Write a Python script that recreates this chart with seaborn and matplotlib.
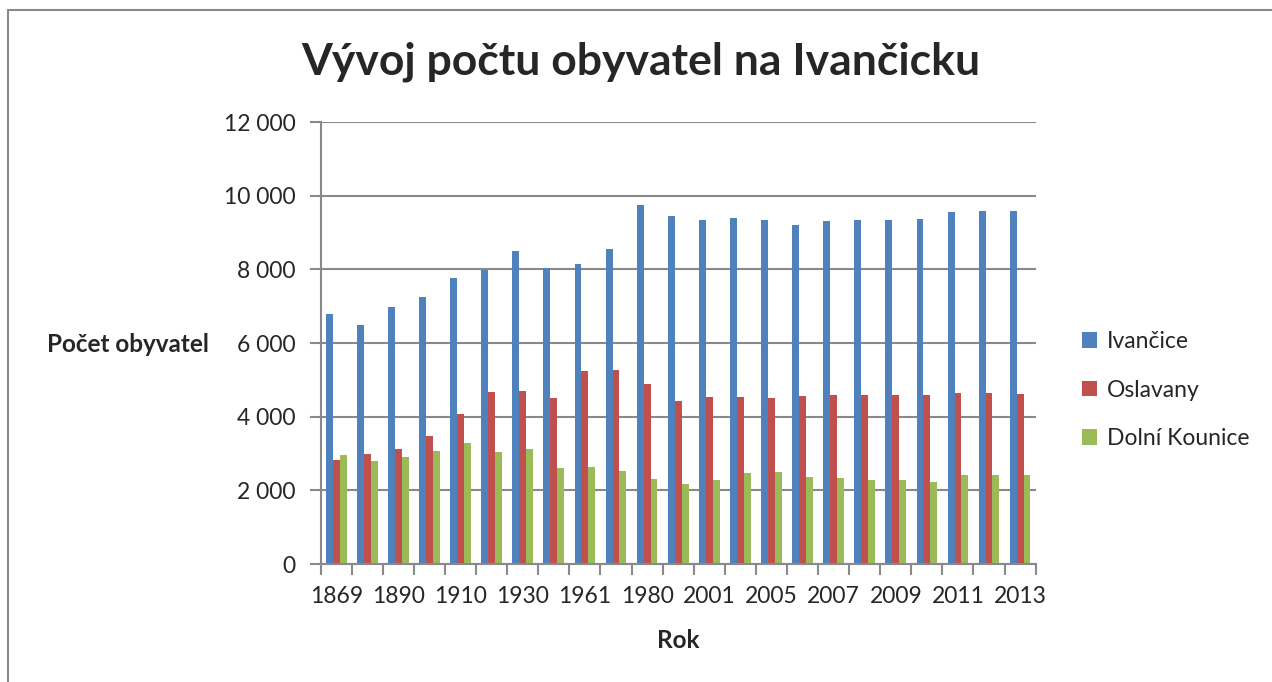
import matplotlib
matplotlib.use("Agg")
import matplotlib.pyplot as plt
from matplotlib.lines import Line2D
from matplotlib.patches import Patch
import pandas as pd
import seaborn as sns

years = ["1869", "1880", "1890", "1900", "1910", "1921", "1930", "1950", "1961", "1970",
         "1980", "1991", "2001", "2004", "2005", "2006", "2007", "2008", "2009", "2010",
         "2011", "2012", "2013"]
ivancice = [6800, 6500, 6980, 7250, 7770, 7980, 8510, 8030, 8140, 8540,
            9740, 9440, 9340, 9390, 9330, 9210, 9300, 9340, 9340, 9370,
            9550, 9590, 9580]
oslavany = [2820, 2980, 3110, 3470, 4060, 4660, 4700, 4520, 5250, 5280,
            4880, 4430, 4530, 4540, 4520, 4550, 4590, 4600, 4600, 4590,
            4640, 4630, 4620]
dolni_kounice = [2950, 2790, 2900, 3060, 3290, 3040, 3110, 2610, 2630, 2520,
                 2310, 2170, 2280, 2460, 2490, 2350, 2340, 2280, 2280, 2230,
                 2430, 2410, 2410]
series_names = ["Ivančice", "Oslavany", "Dolní Kounice"]
colors = ["#4F81BD", "#C0504D", "#9BBB59"]
y_ticks = [0, 2000, 4000, 6000, 8000, 10000, 12000]

df = pd.DataFrame({
    "Rok": years * 3,
    "obec": [series_names[0]] * len(years) + [series_names[1]] * len(years) + [series_names[2]] * len(years),
    "pocet": ivancice + oslavany + dolni_kounice,
})

sns.set_theme(style="white")
plt.rcParams["font.family"] = ["Lato", "DejaVu Sans"]
grey = "#898989"

fig = plt.figure(figsize=(12.72, 6.82), dpi=100)
ax = fig.add_axes([0.2521, 0.1730, 0.5621, 0.6481])

sns.barplot(data=df, x="Rok", y="pocet", hue="obec", order=years, hue_order=series_names,
            palette=colors, width=0.665, saturation=1, ax=ax, legend=False,
            edgecolor="none", linewidth=0)

ax.set_ylim(0, 12000)
ax.set_xlim(-0.5, len(years) - 0.5)
ax.set_yticks(y_ticks)
ax.set_yticklabels([f"{v:,}".replace(",", " ") for v in y_ticks], fontsize=16.5)
ax.yaxis.grid(True, color=grey, linewidth=1.5)
ax.set_axisbelow(True)

ax.set_xticks(range(0, len(years), 2))
ax.set_xticklabels(years[::2], fontsize=16.5)
ax.set_xticks([i - 0.5 for i in range(len(years) + 1)], minor=True)
ax.tick_params(axis="x", which="major", length=0, pad=16)
ax.tick_params(axis="x", which="minor", length=8, width=1.5, color=grey, bottom=True)
ax.tick_params(axis="y", which="major", length=8, width=1.5, color=grey, left=True, pad=10)

for side in ["top", "right"]:
    ax.spines[side].set_visible(False)
for side in ["left", "bottom"]:
    ax.spines[side].set_color(grey)
    ax.spines[side].set_linewidth(1.5)

ax.set_xlabel("")
ax.set_ylabel("")

fig.text(641 / 1272, 1 - 62 / 682, "Vývoj počtu obyvatel na Ivančicku", ha="center", va="center",
         fontsize=32, fontweight="bold")
fig.text(47 / 1272, 1 - 345 / 682, "Počet obyvatel", ha="left", va="center",
         fontsize=17.5, fontweight="bold")
fig.text(678 / 1272, 1 - 640 / 682, "Rok", ha="center", va="center",
         fontsize=17.5, fontweight="bold")

handles = [Patch(facecolor=c, edgecolor="none") for c in colors]
fig.legend(handles, series_names, loc="center left", bbox_to_anchor=(1082 / 1272, 1 - 390 / 682),
           frameon=False, fontsize=16.5, handlelength=0.65, handleheight=0.65, borderpad=0,
           borderaxespad=0, handletextpad=0.45, labelspacing=1.2)

fig.add_artist(Line2D([7.5 / 1272, 7.5 / 1272], [0, 1 - 10 / 682], color=grey, linewidth=1.5,
                      transform=fig.transFigure))
fig.add_artist(Line2D([7.5 / 1272, 1], [1 - 10 / 682, 1 - 10 / 682], color=grey, linewidth=1.5,
                      transform=fig.transFigure))

fig.savefig("out.png", dpi=100)
